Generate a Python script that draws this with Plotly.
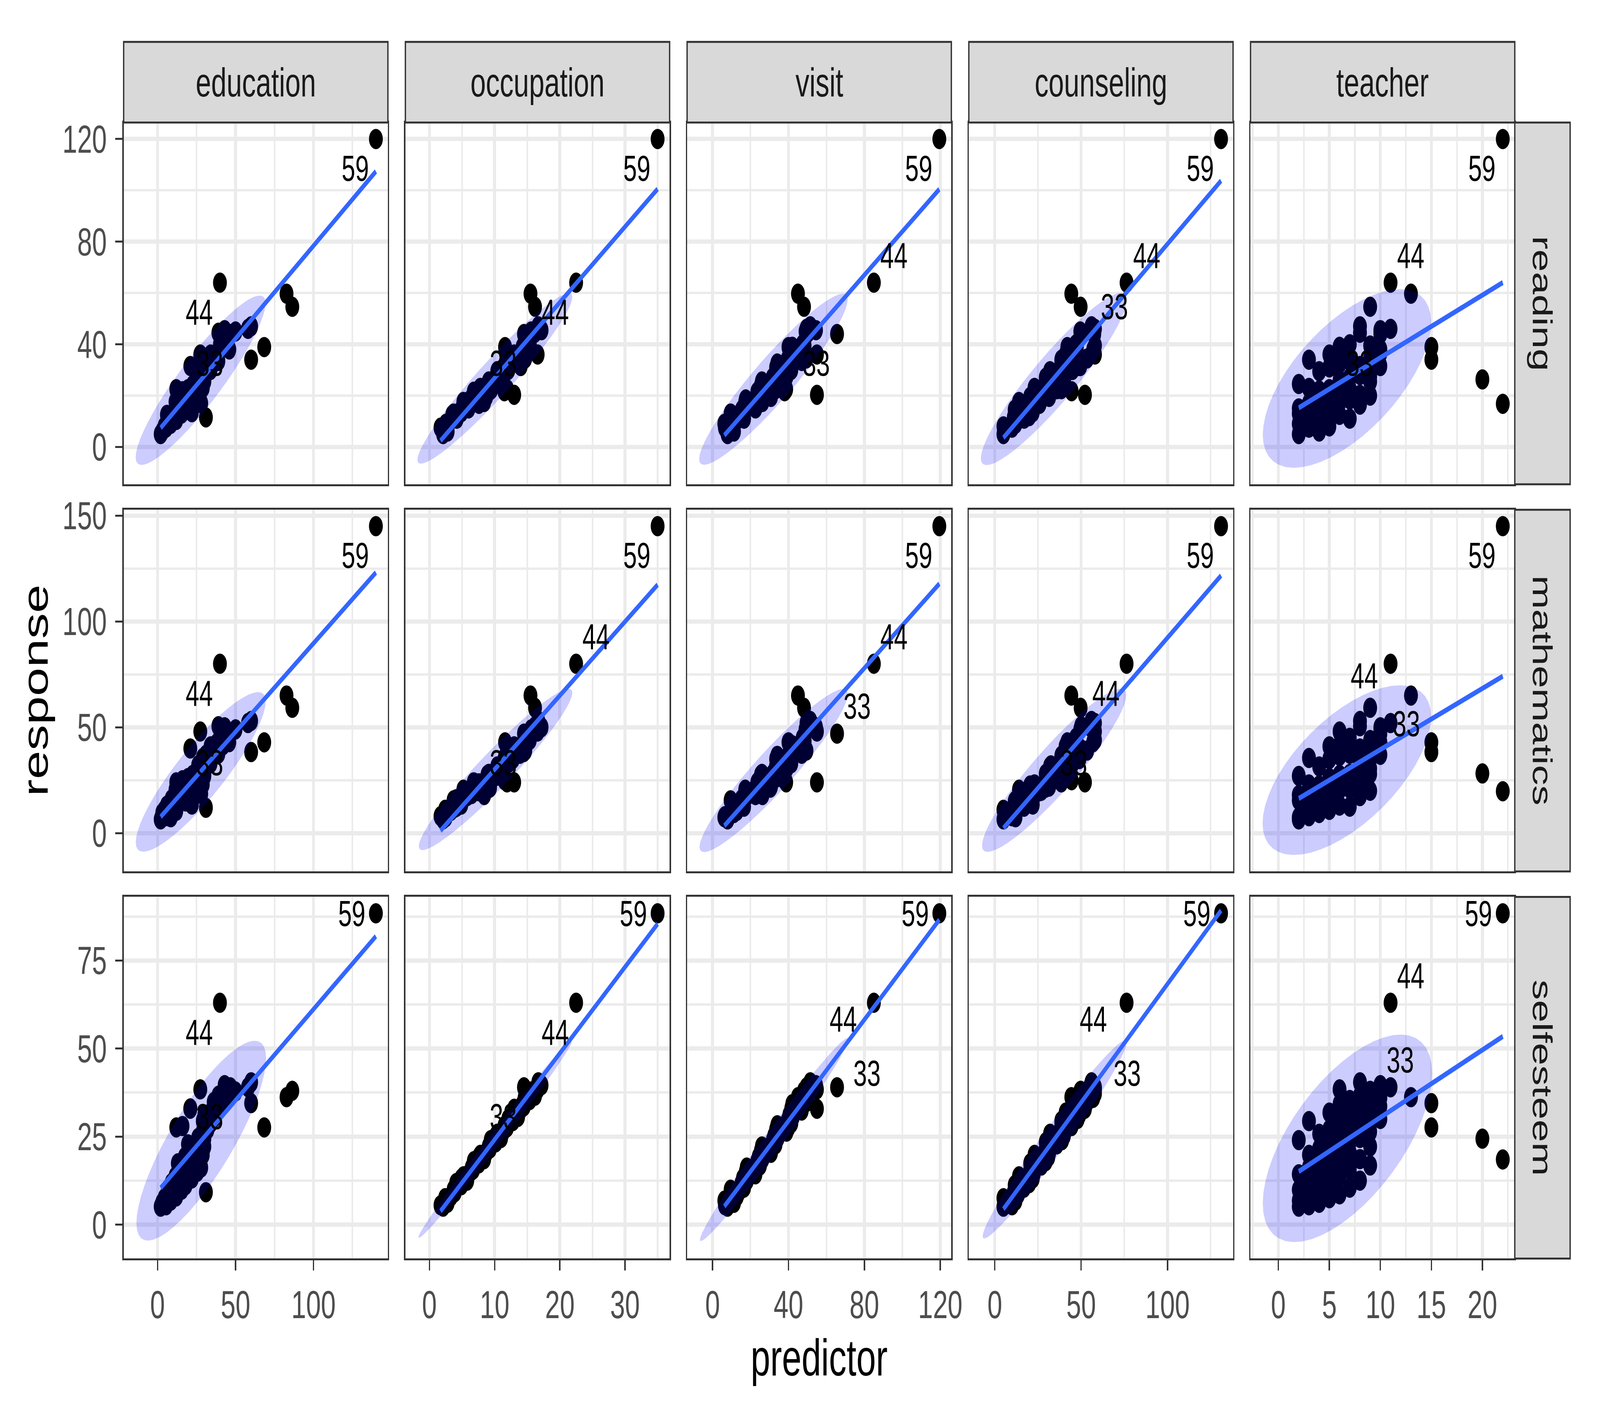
import numpy as np
import plotly.graph_objects as go

# ---------------- data (70 schools) ----------------
predictors = ["education", "occupation", "visit", "counseling", "teacher"]
responses = ["reading", "mathematics", "selfesteem"]

education = [2.0, 5.5, 3.0, 8.5, 4.5, 12.0, 6.0, 31.0, 15.5, 7.5,
             18.0, 9.0, 14.0, 22.0, 11.5, 19.0, 25.5, 16.0, 28.0, 20.5,
             13.0, 27.0, 24.0, 17.5, 29.0, 27.0, 22.5, 27.0, 30.0, 19.5,
             29.0, 28.0, 46.7, 82.7, 26.0, 30.0, 30.0, 29.0, 32.0, 12.0,
             33.0, 34.0, 29.0, 40.0, 86.4, 68.4, 60.0, 30.0, 31.0, 37.0,
             30.0, 34.0, 39.0, 21.0, 38.0, 42.0, 36.0, 40.0, 140.0, 18.0,
             21.0, 16.0, 46.0, 39.0, 44.0, 50.0, 27.4, 58.0, 43.0, 60.0]
occupation = [2.1, 1.7, 2.8, 2.5, 2.4, 3.3, 3.5, 3.9, 3.7, 4.2,
              4.9, 4.1, 5.8, 4.9, 5.2, 6.0, 6.3, 6.7, 6.5, 6.9,
              7.6, 6.8, 8.4, 7.6, 7.8, 8.7, 8.9, 9.3, 9.1, 9.5,
              10.2, 9.4, 14.5, 15.5, 11.0, 10.2, 10.4, 11.3, 11.5, 11.9,
              11.7, 12.1, 12.8, 22.5, 16.2, 11.6, 14.5, 10.2, 12.1, 13.6,
              12.8, 13.0, 13.9, 14.0, 14.5, 14.3, 14.7, 15.4, 35.0, 7.6,
              13.0, 11.5, 14.6, 16.2, 15.4, 15.6, 16.6, 16.6, 17.2, 16.7]
visit = [7.9, 6.5, 11.3, 6.2, 10.5, 12.8, 10.4, 13.8, 9.5, 16.6,
         15.5, 15.3, 18.1, 16.0, 17.2, 22.6, 17.5, 22.5, 18.0, 25.0,
         23.7, 23.6, 26.3, 24.3, 25.2, 30.8, 25.5, 30.5, 26.0, 33.2,
         31.7, 31.8, 65.6, 45.0, 34.3, 32.5, 33.4, 39.0, 33.5, 38.8,
         34.1, 41.5, 39.5, 85.0, 48.2, 40.0, 45.0, 32.5, 40.0, 42.3,
         40.5, 41.5, 47.0, 41.5, 46.5, 42.0, 49.5, 47.5, 119.5, 24.0,
         55.0, 38.0, 48.5, 50.3, 48.5, 49.0, 55.0, 49.5, 54.5, 51.5]
counseling = [5.0, 10.0, 5.5, 12.0, 5.0, 12.5, 13.5, 11.0, 12.0, 17.0,
              11.5, 20.0, 14.0, 22.0, 14.0, 22.5, 22.5, 20.5, 21.0, 27.0,
              20.5, 29.5, 23.0, 31.0, 23.0, 31.5, 31.5, 29.5, 30.0, 36.0,
              29.5, 39.0, 57.6, 44.3, 32.5, 40.0, 32.0, 40.5, 40.0, 38.5,
              38.5, 45.0, 38.5, 76.3, 49.7, 42.0, 50.0, 35.0, 48.0, 41.5,
              49.0, 41.0, 49.5, 49.5, 47.5, 47.5, 53.5, 47.0, 131.0, 26.0,
              52.2, 44.5, 57.0, 50.0, 58.0, 49.5, 58.0, 58.0, 55.5, 56.0]
teacher = [2, 3, 4, 2, 5, 3, 6, 4, 2, 7,
           5, 3, 8, 4, 6, 2, 5, 7, 3, 9,
           4, 6, 8, 5, 3, 7, 6, 4, 9, 5,
           7, 2, 10, 13, 8, 6, 4, 9, 5, 7,
           6, 8, 3, 11, 9, 15, 15, 20, 10, 6,
           9, 5, 7, 8, 10, 6, 9, 7, 22, 22,
           8, 7, 10, 8, 9, 10, 6, 11, 10, 8]
reading = [5.0, 7.5, 6.0, 9.0, 8.0, 10.5, 12.5, 11.5, 13.0, 11.0,
           14.5, 12.0, 16.5, 13.5, 17.5, 15.0, 18.5, 18.5, 17.0, 20.0,
           19.5, 21.5, 17.5, 20.5, 23.0, 19.5, 24.0, 22.0, 25.5, 22.5,
           27.0, 24.5, 44.0, 59.7, 28.0, 26.0, 29.5, 27.5, 31.0, 22.5,
           32.5, 30.0, 34.0, 64.0, 54.6, 38.9, 34.0, 26.3, 31.5, 35.0,
           33.0, 36.0, 33.5, 31.5, 36.5, 39.0, 34.5, 40.0, 120.0, 16.8,
           20.3, 21.7, 38.0, 44.5, 39.5, 45.0, 36.0, 46.0, 45.5, 47.0]
mathematics = [6.5, 8.0, 9.5, 7.5, 11.0, 10.5, 13.0, 12.0, 15.5, 12.5,
               15.0, 16.0, 17.5, 13.5, 20.5, 18.0, 19.5, 21.0, 18.5, 20.0,
               22.5, 24.0, 18.0, 23.5, 23.0, 22.0, 27.5, 21.5, 28.0, 26.0,
               28.0, 27.0, 47.0, 65.0, 32.0, 27.0, 31.5, 30.5, 35.0, 24.0,
               36.5, 33.0, 35.5, 80.0, 59.2, 42.9, 38.3, 28.2, 37.0, 38.5,
               35.0, 41.0, 37.5, 40.0, 42.5, 41.5, 39.0, 45.0, 145.0, 19.8,
               24.0, 25.0, 43.0, 50.5, 44.0, 49.0, 48.0, 52.0, 50.0, 53.0]
selfesteem = [5.1, 5.5, 6.2, 6.8, 7.5, 8.0, 8.6, 9.2, 9.9, 10.5,
              11.2, 11.8, 12.5, 13.1, 13.7, 14.3, 15.0, 15.6, 16.2, 16.8,
              17.4, 18.0, 18.6, 19.2, 19.8, 20.4, 21.0, 21.6, 22.2, 22.8,
              23.4, 24.0, 39.0, 36.2, 24.6, 25.2, 25.8, 26.4, 27.0, 27.6,
              28.2, 28.8, 29.4, 63.0, 38.0, 27.6, 34.5, 24.4, 30.0, 30.6,
              31.2, 31.8, 32.4, 33.0, 33.6, 34.2, 34.8, 35.4, 88.4, 18.5,
              32.9, 28.0, 36.0, 36.6, 37.2, 37.8, 38.4, 39.0, 39.6, 40.4]

labelled = [59, 44, 33]

x_ticks = {"education": [0, 50, 100], "occupation": [0, 10, 20, 30],
           "visit": [0, 40, 80, 120], "counseling": [0, 50, 100],
           "teacher": [0, 5, 10, 15, 20]}
y_ticks = {"reading": [0, 40, 80, 120], "mathematics": [0, 50, 100, 150],
           "selfesteem": [0, 25, 50, 75]}

data = {"education": education, "occupation": occupation, "visit": visit,
        "counseling": counseling, "teacher": teacher, "reading": reading,
        "mathematics": mathematics, "selfesteem": selfesteem}

# label offsets (design px, +x right, +y down) per panel
DL, UR, LF = (-78, 75), (75, -70), (-91, 0)
label_off = {
    ("reading", "education"): {59: DL, 44: DL, 33: DL},
    ("reading", "occupation"): {59: DL, 44: DL, 33: DL},
    ("reading", "visit"): {59: DL, 44: UR, 33: DL},
    ("reading", "counseling"): {59: DL, 44: UR, 33: UR},
    ("reading", "teacher"): {59: DL, 44: UR, 33: DL},
    ("mathematics", "education"): {59: DL, 44: DL, 33: DL},
    ("mathematics", "occupation"): {59: DL, 44: UR, 33: DL},
    ("mathematics", "visit"): {59: DL, 44: UR, 33: UR},
    ("mathematics", "counseling"): {59: DL, 44: DL, 33: DL},
    ("mathematics", "teacher"): {59: DL, 44: (-99, 30), 33: (98, -25)},
    ("selfesteem", "education"): {59: LF, 44: DL, 33: DL},
    ("selfesteem", "occupation"): {59: LF, 44: DL, 33: DL},
    ("selfesteem", "visit"): {59: LF, 44: (-115, 41), 33: (112, -36)},
    ("selfesteem", "counseling"): {59: LF, 44: (-125, 41), 33: (123, -36)},
    ("selfesteem", "teacher"): {59: LF, 44: UR, 33: UR},
}

# ---------------- helpers ----------------
def cov_trob(X, nu=5, maxit=25, tol=0.01):
    n, p = X.shape
    wt = np.ones(n)
    loc = X.mean(axis=0)
    w = np.sqrt(wt)
    Xc = X - loc
    for _ in range(maxit):
        w0 = w
        Xc = X - loc
        A = np.sqrt(wt / wt.sum())[:, None] * Xc
        _, d, Vt = np.linalg.svd(A, full_matrices=False)
        wX = Xc @ Vt.T @ np.diag(1.0 / d)
        Q = (wX ** 2).sum(axis=1)
        w = (wt * (nu + p)) / (nu + Q)
        loc = (w[:, None] * X).sum(axis=0) / w.sum()
        if np.all(np.abs(w - w0) < tol):
            break
    S = np.sqrt(w)[:, None] * Xc
    cov = S.T @ S / wt.sum()
    return loc, cov


def ellipse_pts(x, y, level=0.95, segments=51):
    X = np.column_stack([x, y]).astype(float)
    center, shape = cov_trob(X)
    dfd = len(x) - 1
    fq = (dfd / 2.0) * ((1 - level) ** (-2.0 / dfd) - 1.0)  # qf(level, 2, dfd)
    radius = np.sqrt(2 * fq)
    ang = np.linspace(0, 2 * np.pi, segments)
    circ = np.column_stack([np.cos(ang), np.sin(ang)])
    R = np.linalg.cholesky(shape).T
    E = center + radius * (circ @ R)
    return E[:, 0], E[:, 1]


W, H = 6000, 3600          # design units; scaled to the window at load time
FONT = "Liberation Sans"
pan_w, pan_h, gap = 997.9, 936.7, 66.0
left0, top0 = 467.0, 276.0
strip = 209.0
TICK_FS, STRIP_FS, TITLE_FS, LAB_FS = 100, 104, 132, 92

def xdom(c):
    a = left0 + c * (pan_w + gap)
    return a, a + pan_w

def ydom(r):
    a = top0 + r * (pan_h + gap)
    return a, a + pan_h

ell = {}
for resp in responses:
    for pred in predictors:
        ell[(resp, pred)] = ellipse_pts(data[pred], data[resp])

xr = {}
for pred in predictors:
    vals = list(data[pred])
    for resp in responses:
        vals += list(ell[(resp, pred)][0])
    lo, hi = min(vals), max(vals)
    e = 0.05 * (hi - lo)
    xr[pred] = [lo - e, hi + e]
yr = {}
for resp in responses:
    vals = list(data[resp])
    for pred in predictors:
        vals += list(ell[(resp, pred)][1])
    lo, hi = min(vals), max(vals)
    e = 0.05 * (hi - lo)
    yr[resp] = [lo - e, hi + e]


def minor_vals(ticks, rng):
    step = ticks[1] - ticks[0]
    cand = [t + step / 2 for t in [ticks[0] - step] + ticks]
    return [v for v in cand if rng[0] <= v <= rng[1]]


fig = go.Figure()
layout = dict(width=W, height=H, margin=dict(l=0, r=0, t=0, b=0),
              paper_bgcolor="white", plot_bgcolor="white", showlegend=False,
              font=dict(family=FONT))
annotations = []
shapes = []

for r, resp in enumerate(responses):
    for c, pred in enumerate(predictors):
        k = r * 5 + c + 1
        xa = "x" if k == 1 else f"x{k}"
        ya = "y" if k == 1 else f"y{k}"
        xs = np.array(data[pred], float)
        ys = np.array(data[resp], float)
        fig.add_trace(go.Scatter(x=xs, y=ys, mode="markers", xaxis=xa, yaxis=ya,
                                 marker=dict(size=52, color="black", line=dict(width=0)),
                                 hoverinfo="skip"))
        ex, ey = ell[(resp, pred)]
        fig.add_trace(go.Scatter(x=ex, y=ey, mode="lines", fill="toself",
                                 fillcolor="rgba(0,0,255,0.2)", line=dict(width=0),
                                 xaxis=xa, yaxis=ya, hoverinfo="skip"))
        b, a = np.polyfit(xs, ys, 1)
        lx = np.array([xs.min(), xs.max()])
        fig.add_trace(go.Scatter(x=lx, y=a + b * lx, mode="lines",
                                 line=dict(color="#3366FF", width=13),
                                 xaxis=xa, yaxis=ya, hoverinfo="skip"))
        for lab in labelled:
            dx, dy = label_off[(resp, pred)][lab]
            annotations.append(dict(x=xs[lab - 1], y=ys[lab - 1], xref=xa, yref=ya,
                                    text=str(lab), showarrow=False, xshift=dx, yshift=-dy,
                                    xanchor="center", yanchor="middle",
                                    font=dict(size=LAB_FS, color="black", family=FONT)))
        x0, x1 = xdom(c)
        y0, y1 = ydom(r)
        bottom = (r == len(responses) - 1)
        leftc = (c == 0)
        xt = x_ticks[pred]
        yt = y_ticks[resp]
        layout["xaxis" if k == 1 else f"xaxis{k}"] = dict(
            domain=[x0 / W, x1 / W], anchor=ya, range=xr[pred],
            tickmode="array", tickvals=xt, ticktext=[str(v) for v in xt],
            showticklabels=bottom, ticks="outside" if bottom else "",
            ticklen=26, tickwidth=5, tickcolor="#333333", ticklabelstandoff=2,
            tickfont=dict(size=TICK_FS, color="#4D4D4D", family=FONT),
            showgrid=True, gridcolor="#EBEBEB", gridwidth=11, zeroline=False,
            minor=dict(tickmode="array", tickvals=minor_vals(xt, xr[pred]),
                       showgrid=True, gridcolor="#EBEBEB", gridwidth=5.5, ticks=""),
            showline=True, mirror=True, linecolor="#333333", linewidth=5)
        layout["yaxis" if k == 1 else f"yaxis{k}"] = dict(
            domain=[1 - y1 / H, 1 - y0 / H], anchor=xa, range=yr[resp],
            tickmode="array", tickvals=yt, ticktext=[str(v) for v in yt],
            showticklabels=leftc, ticks="outside" if leftc else "",
            ticklen=26, tickwidth=5, tickcolor="#333333", ticklabelstandoff=12,
            tickfont=dict(size=TICK_FS, color="#4D4D4D", family=FONT),
            showgrid=True, gridcolor="#EBEBEB", gridwidth=11, zeroline=False,
            minor=dict(tickmode="array", tickvals=minor_vals(yt, yr[resp]),
                       showgrid=True, gridcolor="#EBEBEB", gridwidth=5.5, ticks=""),
            showline=True, mirror=True, linecolor="#333333", linewidth=5)

# strips
for c, pred in enumerate(predictors):
    x0, x1 = xdom(c)
    shapes.append(dict(type="rect", xref="paper", yref="paper",
                       x0=x0 / W, x1=x1 / W, y0=1 - top0 / H, y1=1 - (top0 - strip) / H,
                       fillcolor="#D9D9D9", line=dict(color="#333333", width=5)))
    annotations.append(dict(x=(x0 + x1) / 2 / W, y=1 - (top0 - strip / 2) / H,
                            xref="paper", yref="paper", text=pred, showarrow=False,
                            xanchor="center", yanchor="middle",
                            font=dict(size=STRIP_FS, color="#1A1A1A", family=FONT)))
sx0 = left0 + 5 * pan_w + 4 * gap
for r, resp in enumerate(responses):
    y0, y1 = ydom(r)
    shapes.append(dict(type="rect", xref="paper", yref="paper",
                       x0=sx0 / W, x1=(sx0 + strip) / W, y0=1 - y1 / H, y1=1 - y0 / H,
                       fillcolor="#D9D9D9", line=dict(color="#333333", width=5)))
    annotations.append(dict(x=(sx0 + strip / 2) / W, y=1 - (y0 + y1) / 2 / H,
                            xref="paper", yref="paper", text=resp, showarrow=False,
                            textangle=90, xanchor="center", yanchor="middle",
                            font=dict(size=STRIP_FS, color="#1A1A1A", family=FONT)))

annotations.append(dict(x=134 / W, y=1 - ((top0 + ydom(2)[1]) / 2) / H, xref="paper", yref="paper",
                        text="response", showarrow=False, textangle=-90,
                        xanchor="center", yanchor="middle",
                        font=dict(size=TITLE_FS, color="black", family=FONT)))
annotations.append(dict(x=((left0 + xdom(4)[1]) / 2) / W, y=1 - 3475 / H, xref="paper", yref="paper",
                        text="predictor", showarrow=False, xanchor="center", yanchor="middle",
                        font=dict(size=TITLE_FS, color="black", family=FONT)))

layout["annotations"] = annotations
layout["shapes"] = shapes
fig.update_layout(**layout)

# scale the 6000x3600 design to whatever CSS viewport the window has
post = """
var gd = document.getElementById('{plot_id}');
var de = document.documentElement, bd = document.body;
de.style.margin = '0'; de.style.padding = '0'; de.style.overflow = 'hidden';
bd.style.margin = '0'; bd.style.padding = '0'; bd.style.overflow = 'hidden';
var w = window.innerWidth, h = window.innerHeight;
var par = gd.parentElement;
par.style.width = w + 'px'; par.style.height = h + 'px'; par.style.overflow = 'hidden';
gd.style.position = 'fixed'; gd.style.left = '0px'; gd.style.top = '0px';
gd.style.transformOrigin = '0 0';
gd.style.transform = 'scale(' + (w / 6000) + ',' + (h / 3600) + ')';
"""
fig.write_html("out.html", config={"displayModeBar": False}, post_script=post)
